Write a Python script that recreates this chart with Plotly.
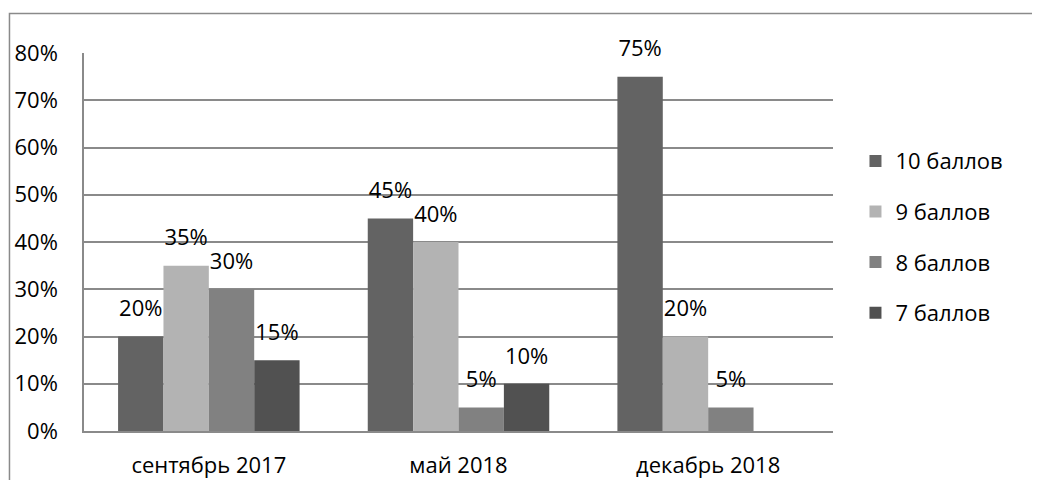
import plotly.graph_objects as go

categories = ['сентябрь 2017', 'май 2018', 'декабрь 2018']
series_names = ['10 баллов', '9 баллов', '8 баллов', '7 баллов']
ball_10 = [0.20, 0.45, 0.75]
ball_9 = [0.35, 0.40, 0.20]
ball_8 = [0.30, 0.05, 0.05]
ball_7 = [0.15, 0.10, None]
colors = ['#636363', '#b3b3b3', '#818181', '#515151']

FONT = 'Open Sans'
FS = 22
GRID = '#8a8a8a'

fig = go.Figure()

for name, vals, col in zip(series_names, [ball_10, ball_9, ball_8, ball_7], colors):
    fig.add_trace(go.Bar(
        x=categories, y=vals, name=name,
        marker=dict(color=col, line=dict(width=0)),
        legendgroup=name,
    ))

# value labels, grouped the same way as the bars
for name, vals in zip(series_names, [ball_10, ball_9, ball_8, ball_7]):
    fig.add_trace(go.Scatter(
        x=categories, y=vals, mode='markers+text',
        text=[f'{v:.0%}' if v is not None else '' for v in vals],
        textposition='top center',
        textfont=dict(family=FONT, size=FS, color='black'),
        marker=dict(size=22, opacity=0),
        showlegend=False, hoverinfo='skip', cliponaxis=False,
    ))

# page body adds 8px around the figure, so the figure is 8px smaller
fig.update_layout(
    width=1032, height=472,
    barmode='group', bargap=0.273, bargroupgap=0,
    scattermode='group', scattergap=0.273,
    paper_bgcolor='white', plot_bgcolor='white',
    margin=dict(l=76, r=207, t=45, b=49),
    font=dict(family=FONT, size=FS, color='black'),
    xaxis=dict(
        showgrid=False, showline=True, linecolor=GRID, linewidth=1.5,
        ticks='', ticklabelstandoff=14, automargin=False,
        tickfont=dict(family=FONT, size=FS, color='black'),
    ),
    yaxis=dict(
        range=[0, 0.8], dtick=0.1, tickformat='.0%',
        showgrid=True, gridcolor=GRID, gridwidth=1.5,
        showline=True, linecolor=GRID, linewidth=1.5,
        zeroline=False, ticks='', ticklabelstandoff=20, automargin=False,
        tickfont=dict(family=FONT, size=FS, color='black'),
    ),
    legend=dict(
        x=1.03, xanchor='left', y=0.513, yanchor='middle',
        font=dict(family=FONT, size=FS, color='black'),
        tracegroupgap=19, itemwidth=30,
        bgcolor='rgba(0,0,0,0)',
    ),
    shapes=[dict(
        type='rect', xref='paper', yref='paper',
        x0=-0.0995, x1=1.4, y0=-0.3, y1=1.1045,
        line=dict(color=GRID, width=1.5), layer='below',
    )],
)

fig.write_html('out.html')
